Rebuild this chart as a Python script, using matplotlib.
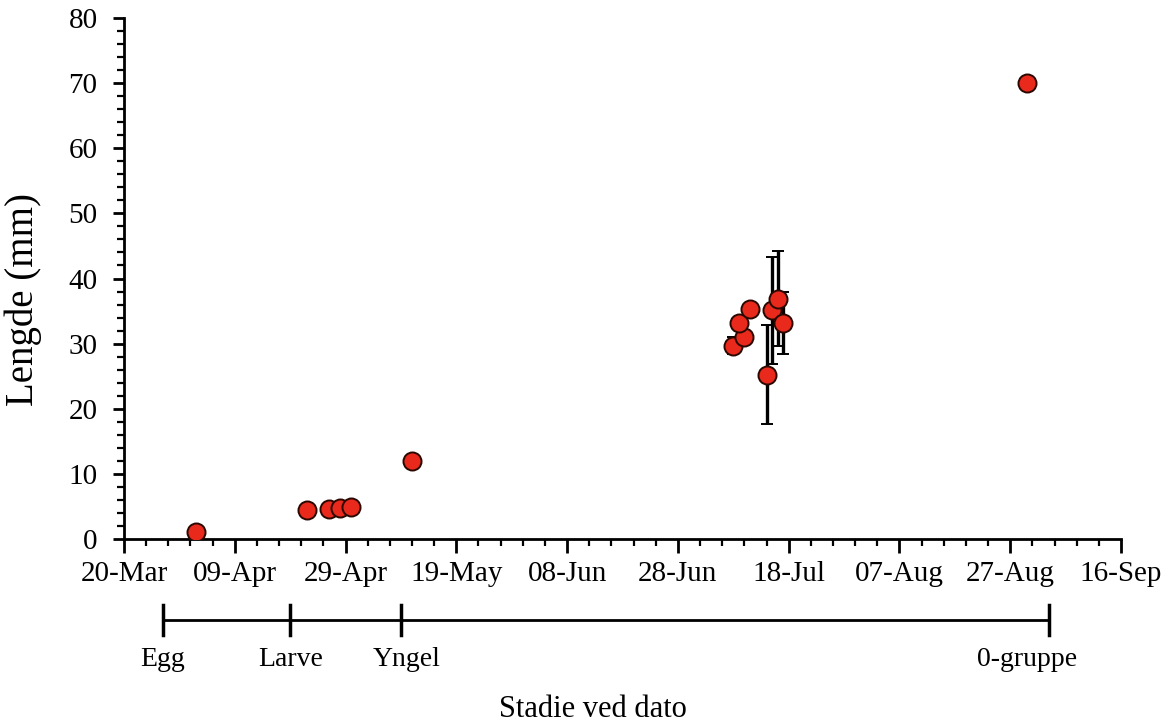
import matplotlib
matplotlib.use("Agg")
import matplotlib.pyplot as plt
import matplotlib.dates as mdates
import numpy as np

plt.rcParams['font.family'] = ['Liberation Serif', 'DejaVu Serif']

# sampling dates, mean length (mm) and standard deviation
dates = ["2019-04-02", "2019-04-22", "2019-04-26", "2019-04-28", "2019-04-30",
         "2019-05-11", "2019-07-08", "2019-07-10", "2019-07-09", "2019-07-11",
         "2019-07-14", "2019-07-15", "2019-07-16", "2019-07-17", "2019-08-30"]
lengths = [1.0, 4.4, 4.6, 4.7, 4.9, 11.9, 29.7, 31.0, 33.2, 35.3,
           25.2, 35.1, 36.9, 33.2, 70.1]
sd = [0, 0, 0, 0, 0, 0, 1.3, 0, 0, 0, 7.6, 8.2, 7.3, 4.8, 0]

# life stages shown under the time axis
stage_names = ["Egg", "Larve", "Yngel", "0-gruppe"]
stage_ticks = ["2019-03-27", "2019-04-19", "2019-05-09", "2019-09-03"]
stage_label_at = ["2019-03-27", "2019-04-19", "2019-05-10", "2019-08-30"]

x = mdates.datestr2num(dates)
start = mdates.datestr2num("2019-03-20")
end = mdates.datestr2num("2019-09-16")

fig = plt.figure(figsize=(11.73, 7.22), dpi=100)
ax = fig.add_axes([0.1057, 0.2535, 0.85, 0.7215])

ax.errorbar(x, lengths, yerr=sd, fmt='o', color='black', ecolor='black',
            elinewidth=2.4, capsize=4, capthick=2.4, markersize=13,
            markerfacecolor='#e8291c', markeredgecolor='#2a0800',
            markeredgewidth=1.4, zorder=3)

ax.set_xlim(start, end)
ax.set_ylim(0, 80)
ax.set_xticks(np.arange(start, end + 1, 20))
ax.set_xticks(np.arange(start, end + 1, 4), minor=True)
ax.xaxis.set_major_formatter(mdates.DateFormatter('%d-%b'))
ax.set_yticks(np.arange(0, 81, 10))
ax.set_yticks(np.arange(0, 81, 2), minor=True)

for s in ['top', 'right']:
    ax.spines[s].set_visible(False)
for s in ['left', 'bottom']:
    ax.spines[s].set_linewidth(2)

ax.tick_params(axis='both', which='major', labelsize=21, width=2, length=10,
               direction='out')
ax.tick_params(axis='both', which='minor', width=1.6, length=5, direction='out')
ax.tick_params(axis='x', which='major', pad=6)
ax.tick_params(axis='y', which='major', length=8, pad=11)

ax.set_ylabel("Lengde (mm)", fontsize=28)
ax.yaxis.set_label_coords(-0.082, 0.46)

# stage bar below the axis (x in data units, y in axes units)
tr = ax.get_xaxis_transform()
st = mdates.datestr2num(stage_ticks)
ax.plot([st[0], st[-1]], [-0.155, -0.155], color='black', lw=2,
        transform=tr, clip_on=False)
for xs in st:
    ax.plot([xs, xs], [-0.127, -0.184], color='black', lw=2.5,
            transform=tr, clip_on=False)
for name, xl in zip(stage_names, mdates.datestr2num(stage_label_at)):
    ax.text(xl, -0.232, name, transform=tr, ha='center', va='center',
            fontsize=20)

ax.text(0.47, -0.328, "Stadie ved dato", transform=ax.transAxes,
        ha='center', va='center', fontsize=22)

fig.savefig("out.png", dpi=100)
